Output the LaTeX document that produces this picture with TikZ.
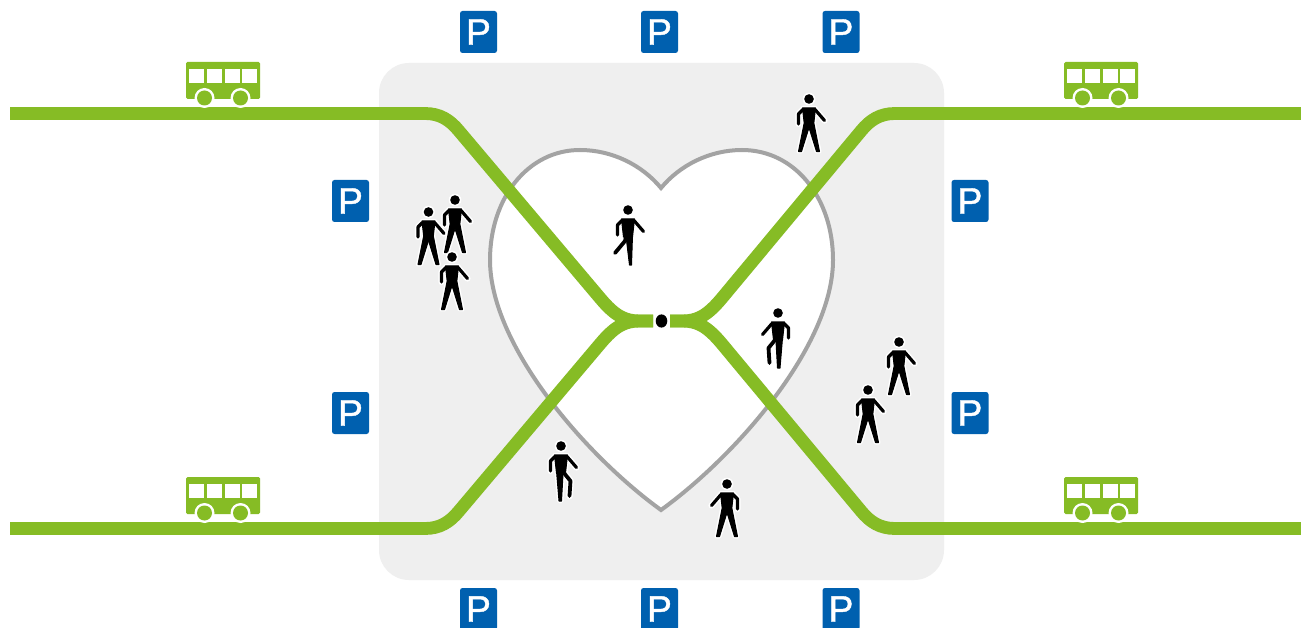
\documentclass[tikz,border=0pt]{standalone}
\usepackage{fontspec}
\setmainfont{Liberation Sans}
\newfontfamily\parkfont[FakeBold=1.2]{Liberation Sans}
\definecolor{busgreen}{HTML}{86BC25}
\definecolor{parkblue}{HTML}{0060AF}
\definecolor{plaza}{HTML}{EFEFEF}
\definecolor{heartgray}{HTML}{A3A3A3}
\newcommand{\walkerbody}[2]{%
  \foreach \pass/\col/\extra in {1/white/3,2/black/0.01}{
    \fill[\col] (0,0) circle ({4.8+\extra/2});
    \path[draw=\col,line cap=round,line join=round,line width={3.2+\extra}]
      (-6,10.5) -- (-10.5,15) -- (-10.5,25);
    \path[draw=\col,line cap=round,line join=round,line width={3.2+\extra}]
      (6,10.5) -- (15.5,21.5);
    \path[fill=\col,draw=\col,line width={1+\extra},line join=round] (-6.5,9) -- (6.5,9) -- (4.5,27) -- (-4.5,27) -- cycle;
    #1
    #2
  }%
}
\tikzset{
  road/.style={draw=busgreen,line width=12.8,line cap=butt,line join=round},
  parksign/.style={fill=parkblue,rounded corners=2.5,minimum width=37,minimum height=42,inner sep=0,text=white,font=\fontsize{37}{37}\parkfont},
  walker/.pic={\walkerbody{
      \path[fill=\col,draw=\col,line join=round,line width={1+\extra}] (-5,25) -- (0.5,27) -- (-7.5,52.5) -- (-10.5,52.5) -- cycle;
    }{
      \path[fill=\col,draw=\col,line join=round,line width={1+\extra}] (5,25) -- (-0.5,27) -- (7.5,52.5) -- (10.5,52.5) -- cycle;
    }},
  benter/.pic={\walkerbody{
      \path[fill=\col,draw=\col,line join=round,line width={1+\extra}] (-4.5,25) -- (2,28) -- (0.5,55) -- (-2,55) -- cycle;
    }{
      \path[draw=\col,line cap=round,line join=round,line width={3.8+\extra}] (3,27) -- (9.5,35) -- (8.5,50);
    }},
  kicker/.pic={\walkerbody{
      \path[draw=\col,line cap=round,line join=round,line width={3.8+\extra}] (-2,26) -- (-3,31) -- (-13,43);
    }{
      \path[fill=\col,draw=\col,line join=round,line width={1+\extra}] (-2,26) -- (4.5,25) -- (3.5,55) -- (1.5,55) -- cycle;
    }},
  bus/.pic={
    \fill[busgreen,rounded corners=1.5] (0,0) rectangle (74,37);
    \foreach \wx in {3,21,38.5,56}{\fill[white] (\wx,7) rectangle ++(15,14);}
    \foreach \wh in {18.5,54.5}{
      \fill[white] (\wh,36) circle (10);
      \fill[busgreen] (\wh,36) circle (7.5);
    }
  },
}
\begin{document}
\begin{tikzpicture}[x=1pt,y=-1pt]
\useasboundingbox (0,0) rectangle (1301,628);
\clip (0,0) rectangle (1301,628);
\fill[white] (0,0) rectangle (1301,628);
\fill[plaza,rounded corners=30] (379,63) rectangle (944,580);
% heart
\path[fill=white,draw=heartgray,line width=4,line join=miter]
  (661,188) .. controls (642,165) and (612,150) .. (580,150)
  .. controls (528,150) and (490,198) .. (490,260)
  .. controls (490,345) and (585,455) .. (661,510)
  .. controls (737,455) and (833,345) .. (833,260)
  .. controls (833,198) and (795,150) .. (742,150)
  .. controls (710,150) and (680,165) .. (661,188) -- cycle;
% roads
\coordinate (tlend) at (10,113.5);
\coordinate (blend) at (10,528.5);
\coordinate (trend) at (1301,113.5);
\coordinate (brend) at (1301,528.5);
\coordinate (hubl) at (653,321);
\coordinate (hubr) at (670,321);
\draw[road] (tlend) -- (425,113.5) .. controls (440,113.5) and (450,120) .. (459,131)
  -- (600,298) .. controls (615,316) and (625,321) .. (640,321) -- (hubl);
\draw[road] (blend) -- (425,528.5) .. controls (440,528.5) and (450,522) .. (459,511)
  -- (600,344) .. controls (615,326) and (625,321) .. (640,321) -- (hubl);
\draw[road] (trend) -- (895,113.5) .. controls (880,113.5) and (870,120) .. (861,131)
  -- (722,298) .. controls (707,316) and (697,321) .. (682,321) -- (hubr);
\draw[road] (brend) -- (895,528.5) .. controls (880,528.5) and (870,522) .. (861,511)
  -- (722,344) .. controls (707,326) and (697,321) .. (682,321) -- (hubr);
\fill[black] (661.5,321) ellipse (5.8 and 6.6);
% buses
\pic at (186,62) {bus};
\pic at (186,477) {bus};
\pic at (1064,62) {bus};
\pic at (1064,477) {bus};
% parking
\node[parksign] (p1) at (478.5,32) {P};
\node[parksign] (p2) at (659.5,32) {P};
\node[parksign] (p3) at (841,32) {P};
\node[parksign] (p4) at (478.5,609) {P};
\node[parksign] (p5) at (659.5,609) {P};
\node[parksign] (p6) at (841,609) {P};
\node[parksign] (p7) at (350.5,201) {P};
\node[parksign] (p8) at (350.5,413) {P};
\node[parksign] (p9) at (970,201) {P};
\node[parksign] (p10) at (970,413) {P};
% people
\pic at (809,99) {walker};
\pic at (428.5,212) {walker};
\pic at (455,200) {walker};
\pic at (452,257) {walker};
\pic at (899,342) {walker};
\pic at (868,390) {walker};
\pic[xscale=-1] at (727,484) {walker};
\pic at (628,210) {kicker};
\pic at (561,446) {benter};
\pic[xscale=-1] at (778,313) {benter};
\end{tikzpicture}
\end{document}
